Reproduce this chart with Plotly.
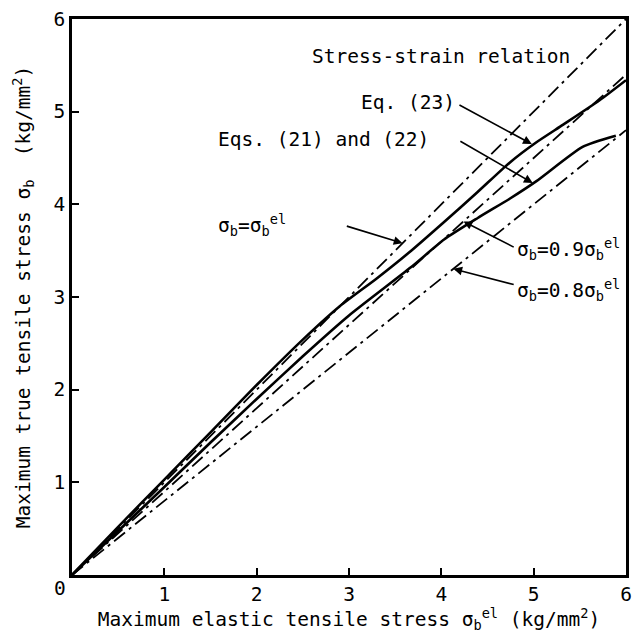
import plotly.graph_objects as go

# Reference lines sigma_b = k * sigma_b^el
ref_slopes = [1.0, 0.9, 0.8]
ref_x = [0.0, 6.0]

# Eq. (23)
eq23_x = [0, 0.5, 1.0, 1.5, 2.0, 2.5, 2.9, 3.3, 3.65, 4.03, 4.39, 4.74, 5.03, 5.32, 5.71, 6.0]
eq23_y = [0, 0.52, 1.03, 1.54, 2.05, 2.54, 2.90, 3.20, 3.48, 3.81, 4.13, 4.45, 4.67, 4.86, 5.12, 5.34]

# Eqs. (21) and (22)
eq2122_x = [0, 0.5, 1.0, 1.5, 2.0, 2.5, 3.0, 3.67, 4.03, 4.39, 4.74, 5.03, 5.53, 5.89]
eq2122_y = [0, 0.475, 0.95, 1.43, 1.90, 2.36, 2.80, 3.32, 3.62, 3.85, 4.06, 4.25, 4.62, 4.74]

tick_vals = [1, 2, 3, 4, 5, 6]
tick_text = ["1", "2", "3", "4", "5", "6"]

FONT = "DejaVu Sans Mono"
FS = 19.5
DASHDOT = "14px,5px,3px,5px"

fig = go.Figure()

for k in ref_slopes:
    fig.add_trace(go.Scatter(
        x=ref_x, y=[k * v for v in ref_x], mode="lines",
        line=dict(color="black", width=1.8, dash=DASHDOT),
        hoverinfo="skip", showlegend=False))

for xs, ys in [(eq23_x, eq23_y), (eq2122_x, eq2122_y)]:
    fig.add_trace(go.Scatter(
        x=xs, y=ys, mode="lines",
        line=dict(color="black", width=2.6, shape="spline", smoothing=0.6),
        hoverinfo="skip", showlegend=False))

txt = dict(font=dict(family=FONT, size=FS, color="black"), showarrow=False,
           xref="x", yref="y", xanchor="left", yanchor="middle")

labels = [
    (2.58, 5.60, "Stress-strain relation"),
    (3.11, 5.10, "Eq. (23)"),
    (1.56, 4.70, "Eqs. (21) and (22)"),
    (1.56, 3.78, "σ<sub>b</sub>=σ<sub>b</sub><sup>el</sup>"),
    (4.80, 3.52, "σ<sub>b</sub>=0.9σ<sub>b</sub><sup>el</sup>"),
    (4.80, 3.08, "σ<sub>b</sub>=0.8σ<sub>b</sub><sup>el</sup>"),
]
for x, y, t in labels:
    fig.add_annotation(x=x, y=y, text=t, **txt)

# Leader arrows: (tail x, tail y, head x, head y)
arrows = [
    (4.18, 5.08, 4.98, 4.65),
    (4.19, 4.69, 4.99, 4.23),
    (2.96, 3.77, 3.58, 3.58 * ref_slopes[0]),
    (4.80, 3.53, 4.24, 4.24 * ref_slopes[1]),
    (4.80, 3.13, 4.13, 4.13 * ref_slopes[2]),
]
for tx, ty, hx, hy in arrows:
    fig.add_annotation(x=hx, y=hy, ax=tx, ay=ty, xref="x", yref="y",
                       axref="x", ayref="y", text="", showarrow=True,
                       arrowhead=2, arrowsize=1.1, arrowwidth=1.6,
                       arrowcolor="black")

# Shared origin label below-left of the corner
fig.add_annotation(x=-0.021, y=-0.024, text="0", xref="paper", yref="paper",
                   showarrow=False, xanchor="center", yanchor="middle",
                   font=dict(family=FONT, size=FS, color="black"))

axis_common = dict(
    range=[0, 6], tickvals=tick_vals, ticktext=tick_text,
    ticks="inside", ticklen=7, tickwidth=2, tickcolor="black",
    showline=True, linecolor="black", linewidth=2.6, mirror=True,
    showgrid=False, zeroline=False, ticklabeloverflow="allow",
    tickfont=dict(family=FONT, size=FS, color="black"),
)

fig.update_xaxes(
    **axis_common,
    title=dict(text="Maximum elastic tensile stress σ<sub>b</sub><sup>el</sup> (kg/mm<sup>2</sup>)",
               font=dict(family=FONT, size=FS, color="black"), standoff=12),
)
fig.update_yaxes(
    **axis_common,
    title=dict(text="Maximum true tensile stress σ<sub>b</sub>  (kg/mm<sup>2</sup>)",
               font=dict(family=FONT, size=FS, color="black"), standoff=18),
)

fig.update_layout(
    width=633, height=633,
    margin=dict(l=72, r=1, t=19, b=58),
    paper_bgcolor="white", plot_bgcolor="white",
    showlegend=False,
)

fig.write_html("out.html")
